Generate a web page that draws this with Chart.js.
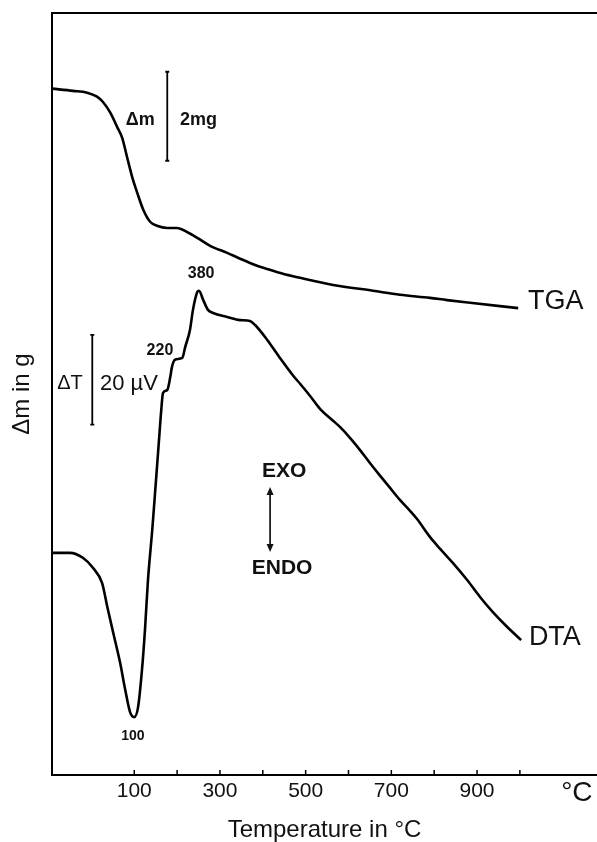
<!DOCTYPE html>
<html>
<head>
<meta charset="utf-8">
<script src="https://cdn.jsdelivr.net/npm/chart.js@4/dist/chart.umd.min.js"></script>
<style>
  body { margin: 0; background: #fff; }
  canvas { display: block; }
</style>
</head>
<body>
<canvas id="thermo" width="597" height="842"></canvas>
<script>
// temperature (°C) and relative signal (mg scale)
const tgaTemp = [-92, -43, -10, 13, 27, 44, 60, 72, 83, 95, 107, 121, 137, 153, 177, 200, 223, 247, 277, 317, 347, 382, 410, 447, 487, 564, 657, 720, 790, 830, 884, 996];
const tgaMass = [15.42, 15.37, 15.33, 15.24, 15.12, 14.88, 14.56, 14.31, 13.89, 13.44, 13.08, 12.70, 12.43, 12.34, 12.29, 12.29, 12.20, 12.07, 11.89, 11.73, 11.60, 11.46, 11.37, 11.26, 11.17, 11.01, 10.88, 10.79, 10.72, 10.67, 10.61, 10.49];

const dtaTemp = [-92, -50, -20, 4, 25, 37, 51, 67, 79, 90, 100, 109, 118, 125, 132, 142, 149, 156, 163, 167, 177, 184, 188, 195, 212, 219, 230, 237, 247, 251, 261, 272, 284, 317, 347, 370, 382, 410, 440, 471, 487, 510, 534, 564, 580, 604, 627, 650, 674, 697, 720, 744, 760, 790, 814, 844, 877, 907, 937, 970, 1003];
const dtaSignal = [4.99, 4.99, 4.88, 4.65, 4.31, 3.78, 3.19, 2.52, 1.91, 1.42, 1.30, 1.53, 2.36, 3.26, 4.38, 5.51, 6.40, 7.30, 8.20, 8.58, 8.65, 8.94, 9.17, 9.33, 9.37, 9.62, 10.00, 10.45, 10.85, 10.88, 10.67, 10.45, 10.38, 10.29, 10.22, 10.20, 10.11, 9.78, 9.37, 8.97, 8.79, 8.52, 8.22, 7.96, 7.82, 7.57, 7.30, 7.01, 6.72, 6.45, 6.18, 5.93, 5.75, 5.35, 5.08, 4.76, 4.38, 4.00, 3.66, 3.33, 3.03];

const tickValues = [100, 200, 300, 400, 500, 600, 700, 800, 900, 1000];
const labelledTicks = [100, 300, 500, 700, 900];

const FONT = '"Liberation Sans", Arial, sans-serif';
const INK = '#111';

const toPoints = (xs, ys) => xs.map((x, i) => ({ x: x, y: ys[i] }));

function text(ctx, str, x, y, font, align) {
  ctx.font = font;
  ctx.textAlign = align || 'center';
  ctx.textBaseline = 'middle';
  ctx.fillText(str, x, y);
}

function scaleBar(ctx, x, y1, y2) {
  ctx.beginPath();
  ctx.moveTo(x, y1); ctx.lineTo(x, y2);
  ctx.moveTo(x - 2, y1); ctx.lineTo(x + 2, y1);
  ctx.moveTo(x - 2, y2); ctx.lineTo(x + 2, y2);
  ctx.stroke();
}

const annotations = {
  id: 'annotations',
  afterDraw(chart) {
    const { ctx, chartArea } = chart;
    const xs = chart.scales.x, ys = chart.scales.y;
    const X = v => xs.getPixelForValue(v);
    const Y = v => ys.getPixelForValue(v);
    ctx.save();
    ctx.strokeStyle = '#000';
    ctx.fillStyle = INK;

    // inward tick marks on the temperature axis
    ctx.lineWidth = 1.5;
    ctx.beginPath();
    tickValues.forEach(v => {
      ctx.moveTo(X(v), chartArea.bottom);
      ctx.lineTo(X(v), chartArea.bottom - 5);
    });
    ctx.stroke();
    text(ctx, '°C', X(1133), chartArea.bottom + 18, '28px ' + FONT);

    // curve names
    text(ctx, 'TGA', X(1019), Y(10.63), '27px ' + FONT, 'left');
    text(ctx, 'DTA', X(1021), Y(3.08), '27px ' + FONT, 'left');

    // peak labels
    text(ctx, '380', X(256), Y(11.26), 'bold 16px ' + FONT);
    text(ctx, '220', X(160), Y(9.53), 'bold 16px ' + FONT);
    text(ctx, '100', X(97), Y(0.88), 'bold 14px ' + FONT);

    // mass scale bar
    ctx.lineWidth = 1.8;
    scaleBar(ctx, X(177), Y(15.8), Y(13.8));
    text(ctx, 'Δm', X(114), Y(14.72), 'bold 18px ' + FONT);
    text(ctx, '2mg', X(207), Y(14.72), 'bold 18px ' + FONT, 'left');

    // ΔT scale bar
    scaleBar(ctx, X(2), Y(9.89), Y(7.87));
    text(ctx, 'ΔT', X(-50), Y(8.79), '20px ' + FONT);
    text(ctx, '20 µV', X(20), Y(8.79), '22px ' + FONT, 'left');

    // EXO / ENDO arrow
    const ax = X(417), top = Y(6.47), bot = Y(5.01);
    ctx.lineWidth = 1.6;
    ctx.beginPath();
    ctx.moveTo(ax, top + 6); ctx.lineTo(ax, bot - 6);
    ctx.stroke();
    ctx.beginPath();
    ctx.moveTo(ax, top); ctx.lineTo(ax - 3.5, top + 8); ctx.lineTo(ax + 3.5, top + 8); ctx.closePath();
    ctx.moveTo(ax, bot); ctx.lineTo(ax - 3.5, bot - 8); ctx.lineTo(ax + 3.5, bot - 8); ctx.closePath();
    ctx.fill();
    text(ctx, 'EXO', X(450), Y(6.83), 'bold 21px ' + FONT);
    text(ctx, 'ENDO', X(445), Y(4.65), 'bold 21px ' + FONT);

    ctx.restore();
  }
};

const axisLine = { display: true, color: '#000', width: 2 };

new Chart(document.getElementById('thermo'), {
  type: 'line',
  data: {
    datasets: [
      {
        label: 'TGA',
        data: toPoints(tgaTemp, tgaMass),
        borderColor: '#000',
        borderWidth: 2.6,
        pointRadius: 0,
        cubicInterpolationMode: 'monotone',
        fill: false
      },
      {
        label: 'DTA',
        data: toPoints(dtaTemp, dtaSignal),
        borderColor: '#000',
        borderWidth: 2.6,
        pointRadius: 0,
        cubicInterpolationMode: 'monotone',
        fill: false
      }
    ]
  },
  options: {
    responsive: false,
    animation: false,
    layout: { padding: 0 },
    plugins: { legend: { display: false }, tooltip: { enabled: false } },
    scales: {
      x: {
        type: 'linear',
        position: 'bottom',
        min: -92,
        max: 1180,
        afterBuildTicks: scale => { scale.ticks = tickValues.map(v => ({ value: v })); },
        ticks: {
          autoSkip: false,
          maxRotation: 0,
          padding: 4,
          color: INK,
          font: { family: FONT, size: 21 },
          callback: v => labelledTicks.includes(v) ? String(v) : ''
        },
        grid: { display: false, drawTicks: false },
        border: axisLine,
        title: {
          display: true,
          text: 'Temperature in °C',
          color: INK,
          padding: 0,
          font: { family: FONT, size: 24, lineHeight: 1 }
        },
        afterFit: scale => { scale.height = 67; }
      },
      frame: {
        type: 'linear',
        position: 'top',
        min: -92,
        max: 1180,
        ticks: { display: false },
        grid: { display: false, drawTicks: false },
        border: axisLine,
        afterFit: scale => { scale.height = 13; }
      },
      y: {
        min: 0,
        max: 17.12,
        ticks: { display: false },
        grid: { display: false, drawTicks: false },
        border: axisLine,
        title: {
          display: true,
          text: 'Δm in g',
          color: INK,
          padding: { top: 8, bottom: 0 },
          font: { family: FONT, size: 24 }
        },
        afterFit: scale => { scale.width = 52; }
      }
    }
  },
  plugins: [annotations]
});
</script>
</body>
</html>
